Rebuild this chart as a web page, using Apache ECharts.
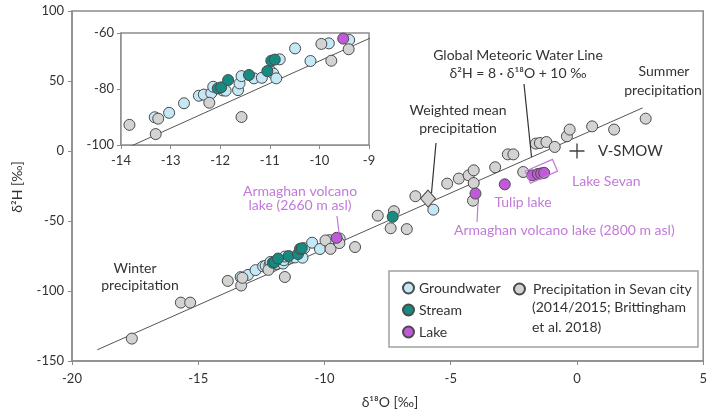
<!DOCTYPE html>
<html><head><meta charset="utf-8">
<script src="https://cdn.jsdelivr.net/npm/echarts@6/dist/echarts.min.js"></script>
<style>html,body{margin:0;padding:0;background:#fff}#c{width:710px;height:414px}</style>
</head><body><div id="c"></div>
<script>
// ---- data (δ18O, δ2H) ----
const groundwater = [
  [-13.32,-90.1],[-13.03,-88.5],[-12.73,-85.1],[-12.43,-82.4],[-12.33,-82.0],[-12.18,-81.5],
  [-12.14,-79.2],[-11.95,-80.5],[-11.89,-80.6],[-11.64,-80.4],[-11.61,-78.0],[-11.57,-75.4],
  [-11.32,-76.2],[-11.16,-76.0],[-10.97,-73.8],[-10.93,-74.5],[-10.87,-76.2],[-10.80,-69.4],
  [-10.49,-65.5],[-10.18,-70.0],[-9.81,-63.7],[-9.40,-62.5],[-5.69,-41.9]
];
const stream = [
  [-12.05,-79.8],[-11.98,-79.4],[-11.84,-76.8],[-11.42,-75.0],[-11.05,-73.6],[-10.97,-69.9],
  [-10.90,-69.5],[-7.30,-47.0]
];
const lake = [
  [-9.52,-62.0],[-4.02,-30.4],[-2.86,-23.8],[-1.77,-17.4],[-1.55,-16.4],[-1.42,-16.0],[-1.30,-15.6]
];
const precipitation = [
  [-17.63,-134.0],[-15.69,-108.3],[-15.32,-108.3],[-13.83,-92.8],[-13.30,-96.1],[-13.25,-90.6],
  [-12.22,-84.9],[-11.57,-90.0],[-9.96,-63.9],[-9.76,-69.9],[-9.41,-65.8],[-8.79,-68.6],
  [-7.89,-46.2],[-7.25,-43.0],[-7.38,-55.2],[-6.74,-55.8],[-6.40,-32.3],[-5.14,-23.3],
  [-4.68,-19.7],[-4.29,-17.4],[-4.09,-13.8],[-4.09,-22.9],[-4.12,-35.5],[-3.24,-11.6],
  [-2.74,-2.4],[-2.52,-2.4],[-2.13,-15.0],[-1.63,5.3],[-1.47,5.7],[-1.21,6.4],[-0.88,2.9],
  [-0.40,10.5],[-0.29,15.3],[0.60,17.6],[1.47,15.3],[2.72,23.1]
];
const weightedMean = [[-5.9,-34.0]];
const vsmow = [[0,0]];
const gmwl = [[-19,-142],[2.6,30.8]];
const sevanBox = [[-2.05,-14.5],[-0.97,-6.0],[-0.77,-14.4],[-1.84,-23.0]];
const mainX = {min:-20,max:5,interval:5};
const mainY = {min:-150,max:100,interval:50};
const insetX = {min:-14,max:-9,interval:1};
const insetY = {min:-100,max:-60,interval:20};

const FONT = 'Lato';
const TXT = '#333';
const VIO = '#c27ad9';
const AX = '#8c8c8c';
const colors = {gw:'#c4e8f6', st:'#178a82', lk:'#c15ad9', pr:'#d3d3d3'};

const chart = echarts.init(document.getElementById('c'), null, {renderer:'canvas'});

function axisX(idx, r, gi){
  return {type:'value', gridIndex:gi, min:r.min, max:r.max, interval:r.interval,
    splitLine:{show:false},
    axisLine:{show:true, onZero:false, lineStyle:{color:AX, width:1.5}},
    axisTick:{show:true, length:4, lineStyle:{color:AX}},
    axisLabel:{fontFamily:FONT, fontSize:13, color:TXT, margin:gi===0?11:9}};
}
function axisY(r, gi){
  return {type:'value', gridIndex:gi, min:r.min, max:r.max, interval:r.interval,
    splitLine:{show:false},
    axisLine:{show:true, onZero:false, lineStyle:{color:AX, width:1.5}},
    axisTick:{show:true, length:4, lineStyle:{color:AX}},
    axisLabel:{fontFamily:FONT, fontSize:13, color:TXT, margin:gi===0?8:7}};
}
function sc(name, data, color, gi, z, extra){
  return Object.assign({type:'scatter', name, data, xAxisIndex:gi, yAxisIndex:gi,
    symbolSize:11, clip:true, silent:true, z:z,
    itemStyle:{color, borderColor:'#4a4a4a', borderWidth:1, opacity:1}}, extra||{});
}
const series = [];
[0,1].forEach(gi=>{
  const zb = gi===0 ? 2 : 20;
  series.push({type:'line', data:gmwl, xAxisIndex:gi, yAxisIndex:gi, symbol:'none', clip:true,
    silent:true, z:zb, lineStyle:{color:'#555', width:1}});
  series.push(sc('Groundwater', groundwater, colors.gw, gi, zb+1));
  series.push(sc('Precipitation in Sevan city', precipitation, colors.pr, gi, zb+2));
  series.push(sc('Stream', stream, colors.st, gi, zb+3));
  series.push(sc('Lake', lake, colors.lk, gi, zb+4));
});
series.push(sc('Weighted mean', weightedMean, colors.pr, 0, 7, {symbol:'diamond', symbolSize:[15,17]}));
series.push({type:'scatter', name:'V-SMOW', data:vsmow, xAxisIndex:0, yAxisIndex:0, silent:true, z:7,
  symbol:'path://M-0.09,-1H0.09V-0.09H1V0.09H0.09V1H-0.09V0.09H-1V-0.09H-0.09Z', symbolSize:15,
  itemStyle:{color:'#111'}});

const legendText = {fontFamily:FONT, fontSize:14, color:TXT, lineHeight:16};
const option = {
  animation:false,
  backgroundColor:'#fff',
  grid:[
    {left:72, top:11, right:2, bottom:53, show:true, borderColor:AX, borderWidth:1.5, z:0},
    {left:121, top:33, width:248, height:112, show:true, borderColor:AX, borderWidth:1.5, backgroundColor:'#fff', z:10}
  ],
  xAxis:[axisX(0, mainX, 0), axisX(1, insetX, 1)],
  yAxis:[axisY(mainY, 0), axisY(insetY, 1)],
  legend:[
    {orient:'vertical', left:397, top:275, itemGap:6, itemWidth:11, itemHeight:11, icon:'circle',
     data:['Groundwater','Stream','Lake'], textStyle:legendText, selectedMode:false, z:30},
    {orient:'vertical', left:508, top:276, itemWidth:11, itemHeight:11, icon:'circle', itemGap:0,
     data:['Precipitation in Sevan city'], textStyle:Object.assign({}, legendText, {padding:[0,0,0,3]}), selectedMode:false, z:30}
  ],
  series
};
chart.setOption(option);

function T(x,y,text,opt){
  return {type:'text', x, y, z:50, silent:true,
    style:Object.assign({text, fill:TXT, font:'14px '+FONT, textAlign:'center', textVerticalAlign:'middle'}, opt||{})};
}
function L(x1,y1,x2,y2,color){
  return {type:'line', z:50, silent:true, shape:{x1,y1,x2,y2}, style:{stroke:color||'#333', lineWidth:1.2}};
}
const boxPts = sevanBox.map(p=>chart.convertToPixel({gridIndex:0}, p));
const g = [
  {type:'rect', z:25, silent:true, shape:{x:389, y:271, width:309, height:76}, style:{fill:'#fff', stroke:'#a0a0a0', lineWidth:1.5}},
  T(532,307.5,'(2014/2015; Brittingham',{textAlign:'left'}),
  T(532,327,'et al. 2018)',{textAlign:'left'}),
  T(17,187,'δ²H [‰]',{}),
  T(390,402,'δ¹⁸O [‰]',{}),
  T(518,55,'Global Meteoric Water Line'),
  T(518,73,'δ²H = 8 · δ¹⁸O + 10 ‰'),
  T(664,71,'Summer'), T(663,90,'precipitation'),
  T(458,110,'Weighted mean'), T(458,128,'precipitation'),
  T(598,151,'V-SMOW',{textAlign:'left', font:'15px '+FONT}),
  T(135,268,'Winter'), T(140,285,'precipitation'),
  T(572,181,'Lake Sevan',{textAlign:'left', fill:VIO}),
  T(523,202,'Tulip lake',{fill:VIO}),
  T(454,230,'Armaghan volcano lake (2800 m asl)',{textAlign:'left', fill:VIO}),
  T(300,191,'Armaghan volcano',{fill:VIO}),
  T(300,205,'lake (2660 m asl)',{fill:VIO}),
  L(524,84,531.5,157),
  L(436,143,431.5,193),
  L(477,222,478,203,VIO),
  L(337,216,339,233,VIO),
  {type:'polygon', z:50, silent:true, shape:{points:boxPts}, style:{fill:'none', stroke:VIO, lineWidth:1.2}}
];
g[3].rotation = Math.PI/2;
chart.setOption({graphic:g});
</script>
</body></html>
